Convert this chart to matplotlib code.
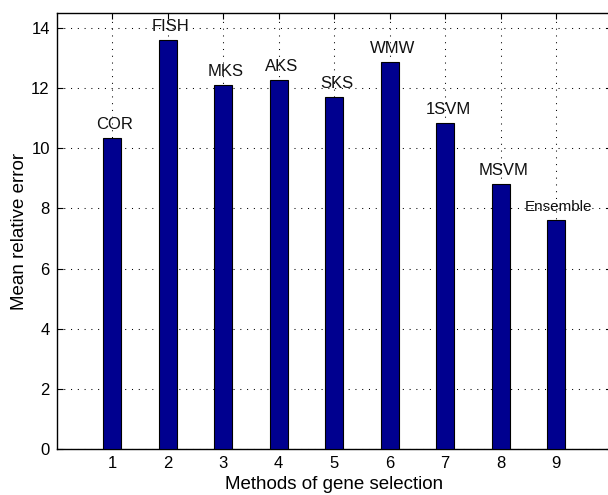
import matplotlib.pyplot as plt
import numpy as np

plt.rcParams['font.family'] = ['Liberation Sans', 'DejaVu Sans']

# Mean relative error for each gene selection method
methods = ['COR', 'FISH', 'MKS', 'AKS', 'SKS', 'WMW', '1SVM', 'MSVM', 'Ensemble']
errors = [10.36, 13.62, 12.12, 12.28, 11.71, 12.87, 10.86, 8.81, 7.62]
positions = np.arange(1, len(methods) + 1)

fig = plt.figure(figsize=(6.08, 4.95), dpi=100)
# axes run slightly past the right edge of the figure
ax = fig.add_axes([0.0933, 0.0935, 0.9127, 0.8796])

ax.bar(positions, errors, width=0.33, color='#00008F', edgecolor='black',
       linewidth=0.8, zorder=3)

for x, y, name in zip(positions, errors, methods):
    size = 11 if name == 'Ensemble' else 12
    ax.text(x + 0.05, y + 0.2, name, ha='center', va='bottom', fontsize=size,
            color='#111111', zorder=4)

ax.set_xlim(0, 10)
ax.set_ylim(0, 14.5)
ax.set_xticks(positions)
ax.set_yticks(np.arange(0, 15, 2))
ax.tick_params(direction='in', top=True, right=True, labelsize=12,
               length=4, width=0.8, pad=5)
ax.grid(True, linestyle=(0, (1, 5.5)), color='black', linewidth=0.75, zorder=0)
for s in ax.spines.values():
    s.set_linewidth(1.0)

ax.set_xlabel('Methods of gene selection', fontsize=13.5, labelpad=4)
ax.set_ylabel('Mean relative error', fontsize=13.5, labelpad=2)

fig.savefig('out.png', dpi=100)
